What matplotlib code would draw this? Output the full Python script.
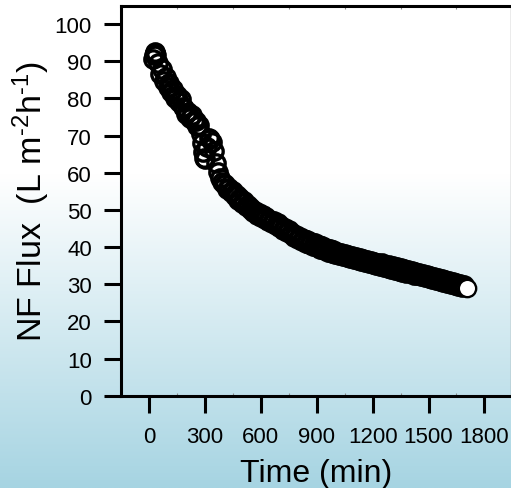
import matplotlib
matplotlib.use("Agg")
import matplotlib.pyplot as plt
import numpy as np
from matplotlib.ticker import MultipleLocator

plt.rcParams['font.family'] = ['Liberation Sans', 'DejaVu Sans']
plt.rcParams['mathtext.fontset'] = 'custom'
plt.rcParams['mathtext.rm'] = 'Liberation Sans'
plt.rcParams['mathtext.it'] = 'Liberation Sans'

# ---- data ----
time_min = [
    20, 25, 30, 35, 40,
    50, 60, 70, 80, 90, 100, 110, 120, 130, 140,
    150, 160, 170, 180, 190, 200, 210, 220, 230, 240,
    250, 260, 270, 280, 285, 290, 295, 300,
    310, 320, 330, 340, 350, 360, 370, 380, 390, 400,
    410, 420, 430, 440, 450, 460, 470, 480, 490, 500,
    510, 520, 530, 540, 550, 560, 570, 580, 590, 600,
    610, 620, 630, 640, 650, 660, 670, 680, 690, 700,
    710, 720, 730, 740, 750, 760, 770, 780, 790, 800,
    810, 820, 830, 840, 850, 860, 870, 880, 890, 900,
    910, 920, 930, 940, 950, 960, 970, 980, 990, 1000,
    1010, 1020, 1030, 1040, 1050, 1060, 1070, 1080, 1090, 1100,
    1110, 1120, 1130, 1140, 1150, 1160, 1170, 1180, 1190, 1200,
    1210, 1220, 1230, 1240, 1250, 1260, 1270, 1280, 1290, 1300,
    1310, 1320, 1330, 1340, 1350, 1360, 1370, 1380, 1390, 1400,
    1410, 1420, 1430, 1440, 1450, 1460, 1470, 1480, 1490, 1500,
    1510, 1520, 1530, 1540, 1550, 1560, 1570, 1580, 1590, 1600,
    1610, 1620, 1630, 1640, 1650, 1660, 1670, 1680, 1690,
    1705,
]
flux = [
    90.5, 91.8, 92.6, 92.3, 91.6,
    89.5, 86.6, 87.8, 84.6, 85.8, 83.0, 84.2, 81.6, 82.4, 80.2,
    81.0, 79.0, 79.8, 77.6, 77.4, 75.8, 76.4, 74.6, 75.4, 73.8,
    74.0, 72.6, 72.8, 70.5, 68.0, 65.5, 64.0, 63.6,
    66.8, 69.4, 69.1, 68.2, 65.8, 62.6, 60.2, 58.6, 57.6, 57.0,
    56.9, 55.6, 56.0, 54.7, 55.0, 53.7, 54.0, 52.7, 53.1, 51.9,
    52.4, 51.1, 51.4, 50.2, 50.6, 49.4, 49.8, 48.7, 49.2, 48.1,
    48.6, 47.5, 48.0, 46.9, 47.4, 46.4, 46.9, 45.8, 46.4, 45.3,
    45.7, 44.6, 45.1, 44.0, 44.5, 43.4, 43.9, 42.8, 43.3, 42.2,
    42.7, 41.7, 42.2, 41.2, 41.8, 40.8, 41.4, 40.4, 41.0, 40.0,
    40.6, 39.6, 40.2, 39.2, 39.8, 38.8, 39.4, 38.5, 39.1, 38.1,
    38.8, 37.8, 38.5, 37.5, 38.2, 37.2, 37.9, 37.0, 37.6, 36.7,
    37.4, 36.5, 37.1, 36.2, 36.8, 35.9, 36.6, 35.6, 36.3, 35.4,
    36.1, 35.1, 35.8, 34.9, 35.6, 34.6, 35.3, 34.4, 35.1, 34.1,
    34.8, 33.9, 34.6, 33.6, 34.3, 33.4, 34.1, 33.1, 33.8, 32.9,
    33.6, 32.6, 33.3, 32.4, 33.1, 32.1, 32.8, 31.9, 32.5, 31.6,
    32.3, 31.3, 32.0, 31.1, 31.7, 30.8, 31.4, 30.5, 31.2, 30.2,
    30.9, 30.0, 30.6, 29.7, 30.3, 29.4, 30.1, 29.2, 29.9,
    28.9,
]

x_ticks = [0, 300, 600, 900, 1200, 1500, 1800]
y_ticks = [0, 10, 20, 30, 40, 50, 60, 70, 80, 90, 100]

W, H, DPI = 511, 489, 100
fig = plt.figure(figsize=(W / DPI, H / DPI), dpi=DPI)

# background gradient (white top -> light blue bottom)
bg = fig.add_axes([0, 0, 1, 1], zorder=-10)
rows = np.linspace(0, 1, H)  # 0 = top
top_c = np.array([1.0, 1.0, 1.0])
bot_c = np.array([166, 212, 226]) / 255.0
start = 0.36
frac = np.clip((rows - start) / (1 - start), 0, 1)
grad = top_c[None, :] * (1 - frac[:, None]) + bot_c[None, :] * frac[:, None]
img = np.repeat(grad[:, None, :], 8, axis=1)
bg.imshow(img, aspect='auto', extent=[0, 1, 0, 1], origin='upper')
bg.set_axis_off()

ax = fig.add_axes([121 / W, 92.3 / H, 389.5 / W, (482.5 - 92.3) / H])
ax.set_facecolor('none')

ms = 12.5
mew = 2.4
# white faces first, then all outlines on top, then the last point on top
ax.plot(time_min[:-1], flux[:-1], linestyle='none', marker='o', markersize=ms,
        markerfacecolor='white', markeredgecolor='none', clip_on=False)
ax.plot(time_min[:-1], flux[:-1], linestyle='none', marker='o', markersize=ms,
        markerfacecolor='none', markeredgecolor='black', markeredgewidth=mew,
        clip_on=False)
ax.plot(time_min[-1:], flux[-1:], linestyle='none', marker='o', markersize=ms,
        markerfacecolor='white', markeredgecolor='black', markeredgewidth=1.7,
        clip_on=False)

ax.set_xlim(-150, 1940)
ax.set_ylim(0, 105)
ax.set_xticks(x_ticks)
ax.set_yticks(y_ticks)
ax.xaxis.set_minor_locator(MultipleLocator(150))
ax.tick_params(axis='both', which='major', direction='out', length=12, width=2.2,
               labelsize=16, color='black')
ax.tick_params(axis='x', which='major', pad=10, top=False)
ax.tick_params(axis='y', which='major', pad=9, right=False)
ax.tick_params(axis='x', which='minor', direction='in', length=2, width=0.8,
               color='#888888', top=True, bottom=True)

for side in ['left', 'bottom', 'top']:
    ax.spines[side].set_linewidth(2.2)
ax.spines['right'].set_linewidth(1.0)
ax.spines['right'].set_color('#999999')

ax.set_xlabel('Time (min)', fontsize=23, labelpad=8)
ax.set_ylabel(r'NF Flux  (L m$^{\text{-}2}$h$^{\text{-}1}$)', fontsize=24.5, labelpad=2)

fig.savefig('out.png', dpi=DPI)
